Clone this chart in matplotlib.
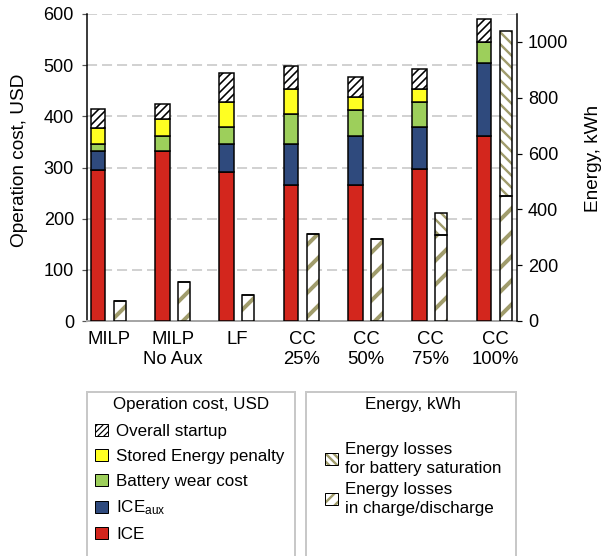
import matplotlib
matplotlib.use('Agg')
import matplotlib.pyplot as plt
from matplotlib.patches import Patch, Rectangle
from matplotlib.legend_handler import HandlerTuple
import numpy as np

plt.rcParams['font.family'] = ['Liberation Sans', 'DejaVu Sans']
plt.rcParams['mathtext.fontset'] = 'custom'
plt.rcParams['mathtext.rm'] = 'Liberation Sans'
plt.rcParams['mathtext.it'] = 'Liberation Sans:italic'

# categories
labels = ['MILP', 'MILP\nNo Aux', 'LF', 'CC\n25%', 'CC\n50%', 'CC\n75%', 'CC\n100%']

# operation cost components, USD
ice = [295, 332, 291, 265, 265, 298, 362]
ice_aux = [37, 0, 54, 81, 97, 81, 143]
battery_wear = [13, 30, 34, 58, 50, 49, 41]
stored_penalty = [33, 33, 49, 50, 25, 26, 0]
startup = [36, 30, 56, 44, 40, 39, 44]

# energy losses, kWh
loss_charge = [72, 141, 94, 311, 295, 308, 448]
loss_saturation = [0, 0, 0, 0, 0, 80, 592]

red = '#d3261d'
navy = '#2f4a7d'
green = '#9dcf5b'
yellow = '#ffff22'
olive = '#a09c6c'

LW_STARTUP = 1.6
LW_CHARGE = 4.0
LW_SAT = 2.4


def set_hatch_width(artists, lw):
    for a in artists:
        if hasattr(a, 'set_hatch_linewidth'):
            a.set_hatch_linewidth(lw)


W, H = 601, 556
fig = plt.figure(figsize=(W / 72, H / 72), dpi=72)
ax = fig.add_axes([87 / W, (H - 321) / H, 430 / W, 307 / H])
ax2 = ax.twinx()

x = np.arange(len(labels))
wc = 0.233   # cost bar width
we = 0.187   # energy bar width
off = 0.339  # energy bar offset

# stacked cost bars
bottom = np.zeros(len(labels))
for vals, col in [(ice, red), (ice_aux, navy), (battery_wear, green), (stored_penalty, yellow)]:
    ax.bar(x, vals, wc, bottom=bottom, color=col, edgecolor='black', linewidth=1.5, zorder=3)
    bottom += np.array(vals)
with plt.rc_context({'hatch.linewidth': LW_STARTUP}):
    b = ax.bar(x, startup, wc, bottom=bottom, color='white', edgecolor='black',
               hatch='///', linewidth=1.5, zorder=3)
set_hatch_width(b, LW_STARTUP)

# energy bars: hatched fill first, black outline on top
xe = x + off
with plt.rc_context({'hatch.linewidth': LW_CHARGE}):
    b = ax2.bar(xe, loss_charge, we, color='white', edgecolor=olive, hatch='/', linewidth=0)
set_hatch_width(b, LW_CHARGE)
with plt.rc_context({'hatch.linewidth': LW_SAT}):
    b = ax2.bar(xe, loss_saturation, we, bottom=loss_charge, color='white', edgecolor=olive,
                hatch='\\\\', linewidth=0)
set_hatch_width(b, LW_SAT)
ax2.bar(xe, loss_charge, we, color='none', edgecolor='black', linewidth=1.5)
ax2.bar(xe, loss_saturation, we, bottom=loss_charge, color='none', edgecolor='black', linewidth=1.5)

# axes
ax.set_xlim(-0.171, 6.513)
ax.set_ylim(0, 600)
ax2.set_ylim(0, 1100)
ax.set_yticks(range(0, 601, 100))
ax2.set_yticks(range(0, 1001, 200))
ax.set_xticks(x + off / 2)
ax.set_xticklabels(labels, fontsize=18.5)
ax.tick_params(axis='x', length=0, pad=10)
ax.tick_params(axis='y', labelsize=18, length=5, width=1.2, color='#555555', pad=8)
ax2.tick_params(axis='y', labelsize=18, length=5, width=1.2, color='black', pad=6)

ax.set_axisbelow(True)
ax.yaxis.grid(True, color='#c4c4c4', linestyle=(0, (6.7, 3.3)), linewidth=1.5)

for s in ['top', 'right']:
    ax.spines[s].set_visible(False)
ax.spines['left'].set_linewidth(1.5)
ax.spines['bottom'].set_color('#a6a6a6')
ax.spines['bottom'].set_linewidth(2)
for s in ['top', 'left', 'bottom']:
    ax2.spines[s].set_visible(False)
ax2.spines['right'].set_linewidth(1.5)

ax.set_ylabel('Operation cost, USD', fontsize=19)
ax.yaxis.set_label_coords(-0.137, 0.523)
ax2.set_ylabel('Energy, kWh', fontsize=19)
ax2.yaxis.set_label_coords(1.157, 0.529)

# legend boxes below the plot
fig.add_artist(Rectangle((87 / W, -0.1), 208 / W, 0.1 + (H - 392) / H, transform=fig.transFigure,
                         fill=False, edgecolor='#c8c8c8', linewidth=2))
fig.add_artist(Rectangle((306 / W, -0.1), 210 / W, 0.1 + (H - 392) / H, transform=fig.transFigure,
                         fill=False, edgecolor='#c8c8c8', linewidth=2))
fig.text(191 / W, 1 - 405 / H, 'Operation cost, USD', fontsize=17, ha='center', va='center')
fig.text(413 / W, 1 - 405 / H, 'Energy, kWh', fontsize=17, ha='center', va='center')

cost_handles = [
    Patch(facecolor='white', edgecolor='black', hatch='////', linewidth=1),
    Patch(facecolor=yellow, edgecolor='black', linewidth=1),
    Patch(facecolor=green, edgecolor='black', linewidth=1),
    Patch(facecolor=navy, edgecolor='black', linewidth=1),
    Patch(facecolor=red, edgecolor='black', linewidth=1),
]
cost_labels = ['Overall startup', 'Stored Energy penalty', 'Battery wear cost',
               r'ICE$_{\mathrm{aux}}$', 'ICE']
leg1 = fig.legend(cost_handles, cost_labels, loc='upper left',
                  bbox_to_anchor=(95 / W, 1 - 424 / H),
                  bbox_transform=fig.transFigure, frameon=False, fontsize=17,
                  handlelength=13 / 17, handleheight=12 / 17, handletextpad=0.5,
                  labelspacing=0.58, borderpad=0, borderaxespad=0)

energy_handles = [
    (Patch(facecolor='white', edgecolor=olive, hatch='\\\\\\', linewidth=0),
     Patch(facecolor='none', edgecolor='black', linewidth=1)),
    (Patch(facecolor='white', edgecolor=olive, hatch='//', linewidth=0),
     Patch(facecolor='none', edgecolor='black', linewidth=1)),
]
energy_labels = ['Energy losses\nfor battery saturation', 'Energy losses\nin charge/discharge']
leg2 = fig.legend(energy_handles, energy_labels, loc='upper left',
                  bbox_to_anchor=(325 / W, 1 - 442 / H),
                  bbox_transform=fig.transFigure, frameon=False, fontsize=17,
                  handlelength=13 / 17, handleheight=12 / 17, handletextpad=0.4,
                  labelspacing=0.38, borderpad=0, borderaxespad=0,
                  handler_map={tuple: HandlerTuple(ndivide=1, pad=0)})
for t in leg2.get_texts():
    t.set_linespacing(1.3)

# thicker hatch strokes on the legend swatches
for r in leg1.findobj(Rectangle):
    if r.get_hatch():
        set_hatch_width([r], 1.2)
for r in leg2.findobj(Rectangle):
    if r.get_hatch():
        set_hatch_width([r], 2.4)

fig.savefig('out.png', dpi=72)
